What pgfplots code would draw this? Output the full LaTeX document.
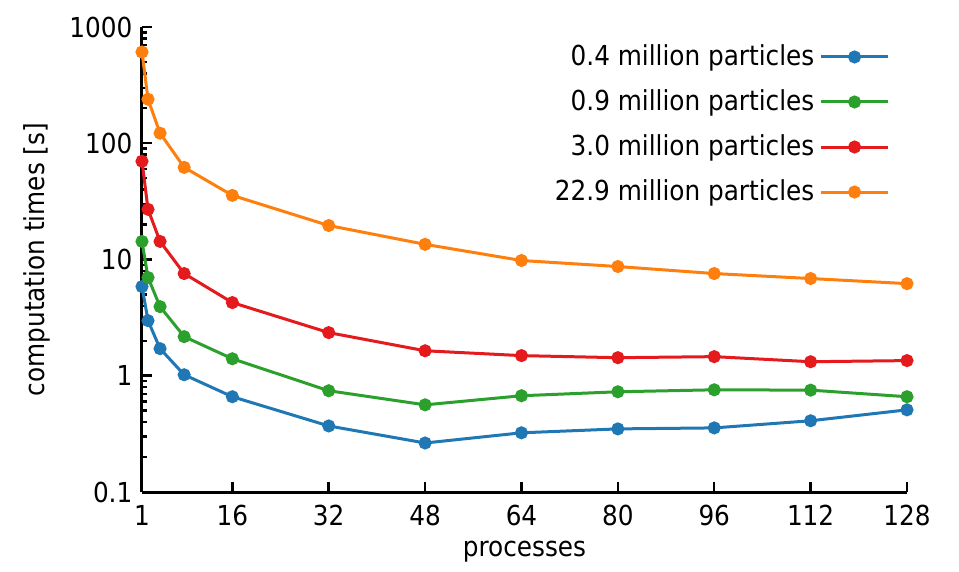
\documentclass[border=0pt]{standalone}
\usepackage{pgfplots}
\pgfplotsset{compat=1.18}
\usepackage{fontspec}
\setmainfont{DejaVu Sans Condensed}
\definecolor{cblue}{HTML}{1F77B4}
\definecolor{cgreen}{HTML}{2CA02C}
\definecolor{cred}{HTML}{E41A1C}
\definecolor{corange}{HTML}{FF7F0E}
\begin{document}
\fontsize{11}{13}\selectfont
\begin{tikzpicture}
\begin{axis}[
  at={(0,0)}, anchor=south west,
  scale only axis, width=306pt, height=186pt,
  xmin=1, xmax=128, ymin=0.1, ymax=1000,
  ymode=log,
  axis x line=bottom, axis y line=left,
  axis line style={line width=1.2pt,-},
  xtick={1,16,32,48,64,80,96,112,128},
  ytick={0.1,1,10,100,1000},
  yticklabels={0.1,1,10,100,1000},
  log ticks with fixed point,
  tick align=inside,
  major tick length=4pt, minor tick length=2.2pt,
  every tick/.style={black, line width=1pt},
  /pgf/number format/assume math mode=true,
  ticklabel style={font=\fontsize{11}{13}\selectfont},
  xticklabel style={yshift=-1.5pt},
  label style={font=\fontsize{11}{13}\selectfont},
  xlabel={processes}, ylabel={computation times [s]},
  xlabel style={yshift=1.5pt},
  ylabel style={yshift=0pt},
  clip=false,
  every axis plot/.append style={line width=1.2pt, mark=*, mark size=2pt},
  legend cell align=right,
  legend plot pos=right,
  legend style={draw=none, fill=none, at={(rel axis cs:0.988,0.985)}, anchor=north east,
    row sep=4pt, font=\fontsize{11}{13}\selectfont,
    /tikz/every even column/.append style={column sep=3pt}},
  legend image code/.code={\draw[mark repeat=2,mark phase=2,#1] plot coordinates {(0pt,0pt)(13.5pt,0pt)(27pt,0pt)};},
]
\addplot[cblue, mark options={fill=cblue}] coordinates {
(1,5.85)(2,2.98)(4,1.71)(8,1.02)(16,0.66)(32,0.37)(48,0.264)(64,0.323)(80,0.349)(96,0.356)(112,0.41)(128,0.509)};
\addlegendentry{0.4 million particles}
\addplot[cgreen, mark options={fill=cgreen}] coordinates {
(1,14.3)(2,7.0)(4,3.93)(8,2.17)(16,1.40)(32,0.743)(48,0.562)(64,0.673)(80,0.728)(96,0.757)(112,0.752)(128,0.66)};
\addlegendentry{0.9 million particles}
\addplot[cred, mark options={fill=cred}] coordinates {
(1,70)(2,27)(4,14.3)(8,7.57)(16,4.26)(32,2.35)(48,1.64)(64,1.49)(80,1.43)(96,1.46)(112,1.32)(128,1.35)};
\addlegendentry{3.0 million particles}
\addplot[corange, mark options={fill=corange}] coordinates {
(1,609)(2,239)(4,122)(8,62)(16,35.6)(32,19.6)(48,13.5)(64,9.8)(80,8.7)(96,7.57)(112,6.86)(128,6.2)};
\addlegendentry{22.9 million particles}
\end{axis}
\path[use as bounding box] (-56.8pt,-29.2pt) rectangle (326.8pt,196.8pt);
\end{tikzpicture}
\end{document}
